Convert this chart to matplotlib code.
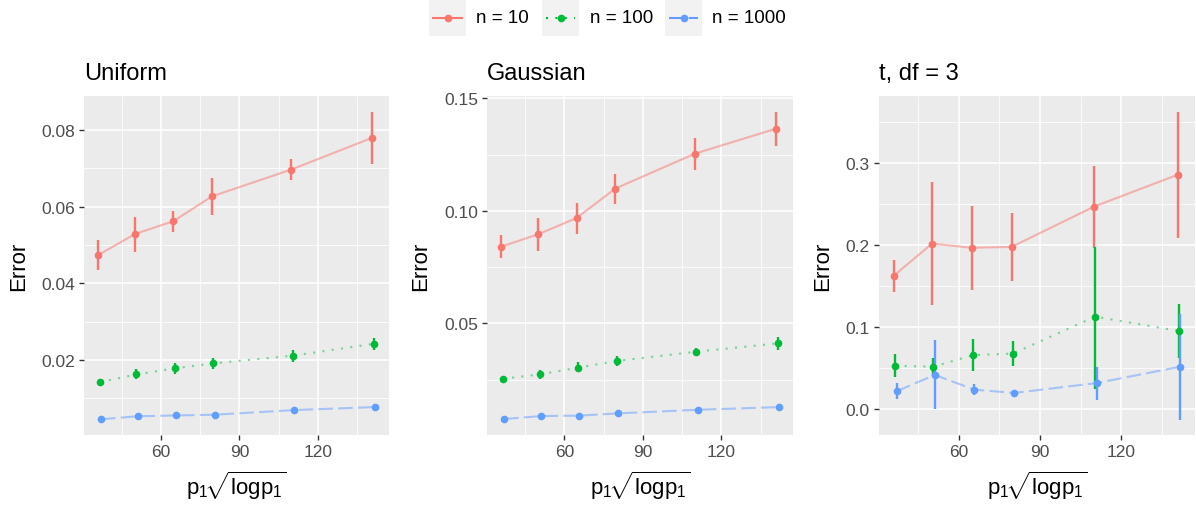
import numpy as np
import matplotlib
matplotlib.use("Agg")
import matplotlib.pyplot as plt
from matplotlib.lines import Line2D
from matplotlib.patches import Rectangle

plt.rcParams['font.family'] = ['Liberation Sans', 'DejaVu Sans']
plt.rcParams['mathtext.fontset'] = 'custom'
plt.rcParams['mathtext.rm'] = 'Liberation Sans'
plt.rcParams['mathtext.it'] = 'Liberation Sans'

# x positions: p1 * sqrt(log p1)
x_vals = [36.5, 50.6, 65.2, 80.0, 110.4, 141.4]

# Uniform
u10 = [0.0474, 0.0529, 0.0562, 0.0627, 0.0697, 0.0780]
u10_lo = [0.0435, 0.0483, 0.0533, 0.0578, 0.0670, 0.0712]
u10_hi = [0.0513, 0.0572, 0.0590, 0.0675, 0.0724, 0.0848]
u100 = [0.0142, 0.0162, 0.0178, 0.0191, 0.0211, 0.0242]
u100_lo = [0.0133, 0.0150, 0.0163, 0.0175, 0.0194, 0.0226]
u100_hi = [0.0151, 0.0175, 0.0191, 0.0205, 0.0227, 0.0257]
u1000 = [0.0045, 0.0053, 0.0055, 0.0057, 0.0069, 0.0077]
u1000_lo = [0.0043, 0.0051, 0.0053, 0.0055, 0.0067, 0.0075]
u1000_hi = [0.0047, 0.0055, 0.0057, 0.0059, 0.0071, 0.0079]

# Gaussian
g10 = [0.0841, 0.0896, 0.0968, 0.1099, 0.1254, 0.1365]
g10_lo = [0.0789, 0.0820, 0.0899, 0.1032, 0.1183, 0.1290]
g10_hi = [0.0893, 0.0968, 0.1035, 0.1165, 0.1322, 0.1441]
g100 = [0.0254, 0.0273, 0.0303, 0.0333, 0.0374, 0.0411]
g100_lo = [0.0248, 0.0253, 0.0282, 0.0312, 0.0356, 0.0381]
g100_hi = [0.0260, 0.0294, 0.0327, 0.0353, 0.0389, 0.0441]
g1000 = [0.0075, 0.0088, 0.0090, 0.0100, 0.0116, 0.0128]
g1000_lo = [0.0072, 0.0085, 0.0087, 0.0097, 0.0113, 0.0125]
g1000_hi = [0.0078, 0.0091, 0.0093, 0.0103, 0.0119, 0.0131]

# t, df = 3
t10 = [0.163, 0.202, 0.197, 0.198, 0.247, 0.286]
t10_lo = [0.143, 0.127, 0.146, 0.157, 0.197, 0.209]
t10_hi = [0.182, 0.277, 0.248, 0.239, 0.297, 0.363]
t100 = [0.053, 0.052, 0.066, 0.068, 0.113, 0.0955]
t100_lo = [0.039, 0.041, 0.047, 0.053, 0.025, 0.062]
t100_hi = [0.068, 0.062, 0.086, 0.083, 0.198, 0.129]
t1000 = [0.022, 0.042, 0.024, 0.020, 0.032, 0.052]
t1000_lo = [0.013, 0.000, 0.017, 0.019, 0.011, -0.013]
t1000_hi = [0.032, 0.084, 0.031, 0.021, 0.051, 0.116]

titles = ["Uniform", "Gaussian", "t, df = 3"]
labels = ["n = 10", "n = 100", "n = 1000"]
colors = ["#F8766D", "#00BA38", "#619CFF"]
styles = ["-", (0, (1, 3.5)), (0, (7, 2.5))]
dodge = [-0.5, 0.0, 0.5]

panels = [
    [(u10, u10_lo, u10_hi), (u100, u100_lo, u100_hi), (u1000, u1000_lo, u1000_hi)],
    [(g10, g10_lo, g10_hi), (g100, g100_lo, g100_hi), (g1000, g1000_lo, g1000_hi)],
    [(t10, t10_lo, t10_hi), (t100, t100_lo, t100_hi), (t1000, t1000_lo, t1000_hi)],
]
ylims = [(0.0004, 0.0889), (0.0004, 0.151), (-0.0313, 0.382)]
yticks = [[0.02, 0.04, 0.06, 0.08], [0.05, 0.10, 0.15], [0.0, 0.1, 0.2, 0.3]]
yminor = [[0.01, 0.03, 0.05, 0.07], [0.025, 0.075, 0.125], [0.05, 0.15, 0.25, 0.35]]
yfmt = ["{:.2f}", "{:.2f}", "{:.1f}"]

W, H = 1196, 510
fig = plt.figure(figsize=(W / 100, H / 100), dpi=100)

boxes = [(84, 389), (487, 793), (879, 1195)]
top, bottom = 97, 436

for k in range(3):
    l, r = boxes[k]
    ax = fig.add_axes([l / W, (H - bottom) / H, (r - l) / W, (bottom - top) / H])
    ax.set_facecolor("#EBEBEB")
    for s in ax.spines.values():
        s.set_visible(False)
    ax.set_xlim(30.5, 147.3)
    ax.set_ylim(*ylims[k])
    ax.set_xticks([60, 90, 120])
    ax.set_xticks([45, 75, 105, 135], minor=True)
    ax.set_yticks(yticks[k])
    ax.set_yticks(yminor[k], minor=True)
    ax.set_yticklabels([yfmt[k].format(v) for v in yticks[k]])
    ax.grid(which="major", color="white", linewidth=1.1)
    ax.grid(which="minor", color="white", linewidth=0.55)
    ax.set_axisbelow(True)
    ax.tick_params(which="major", length=3.5, width=1.0, color="#333333",
                   labelcolor="#4D4D4D", labelsize=12.5, pad=3)
    ax.tick_params(which="minor", length=0)

    for j in range(3):
        y, lo, hi = panels[k][j]
        xs = np.array(x_vals) + dodge[j]
        y = np.array(y)
        ax.plot(xs, y, color=colors[j], linestyle=styles[j], linewidth=1.5,
                alpha=0.5, zorder=2)
        ax.vlines(xs, lo, hi, color=colors[j], linewidth=1.7, zorder=3)
        ax.plot(xs, y, "o", color=colors[j], markersize=4.5, zorder=4)

    ax.set_title(titles[k], loc="left", fontsize=17, pad=12)
    ax.set_ylabel("Error", fontsize=16, labelpad=9)
    ax.set_xlabel(r"$\mathrm{p_1}\!\sqrt{\mathrm{logp_1}}$", fontsize=16, labelpad=7)

# legend at the top
key_x = [429, 542, 665]
text_x = [476, 590, 712]
for j in range(3):
    x0 = key_x[j]
    fig.add_artist(Rectangle((x0 / W, 1 - 37 / H), 37 / W, 37 / H,
                             transform=fig.transFigure, facecolor="#F2F2F2",
                             edgecolor="none"))
    fig.add_artist(Line2D([(x0 + 4) / W, (x0 + 33) / W], [1 - 18.5 / H, 1 - 18.5 / H],
                          transform=fig.transFigure, color=colors[j],
                          linestyle=styles[j], linewidth=1.5))
    fig.add_artist(Line2D([(x0 + 18.5) / W], [1 - 18.5 / H], transform=fig.transFigure,
                          color=colors[j], marker="o", markersize=4.5, linestyle="none"))
    fig.text(text_x[j] / W, 1 - 18.5 / H, labels[j], fontsize=13.5, va="center",
             ha="left", color="black")

fig.savefig("out.png", dpi=100)
